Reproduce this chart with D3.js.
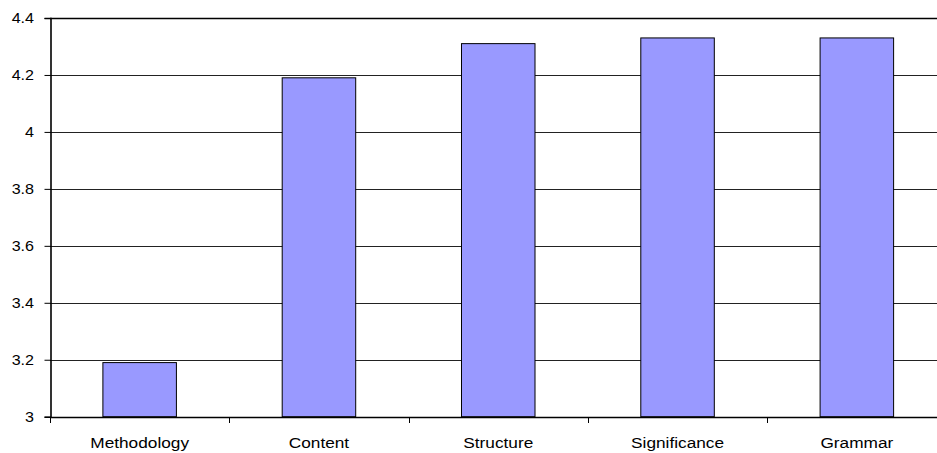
<!DOCTYPE html>
<meta charset="utf-8">
<script src="https://d3js.org/d3.v7.min.js"></script>
<style>
  body { margin: 0; background: #fff; }
</style>
<div id="chart"></div>
<script>
// data
var categories = ["Methodology", "Content", "Structure", "Significance", "Grammar"];
var values = [3.19, 4.19, 4.31, 4.33, 4.33];
var yTicks = [3, 3.2, 3.4, 3.6, 3.8, 4, 4.2, 4.4];

var W = 937, H = 453;
var margin = {left: 50, right: 946.5, top: 18, bottom: 416.7};
var stretch = 1.15; // text in the original is a bit wider than plain Arial

var svg = d3.select("#chart").append("svg")
  .attr("width", W)
  .attr("height", H)
  .style("font-family", "Arial, 'Liberation Sans', sans-serif");

var x = d3.scaleBand()
  .domain(categories)
  .range([margin.left, margin.right])
  .paddingInner(0.59)
  .paddingOuter(0.295);

var xb = d3.scaleBand().domain(categories).range([margin.left, margin.right]);

var y = d3.scaleLinear().domain([3, 4.4]).range([margin.bottom, margin.top]);

// gridlines
svg.selectAll(".grid")
  .data(yTicks.slice(1))
  .enter().append("line")
    .attr("x1", margin.left).attr("x2", margin.right)
    .attr("y1", function(d){ return Math.round(y(d)) + 0.5 })
    .attr("y2", function(d){ return Math.round(y(d)) + 0.5 })
    .attr("stroke", function(d){ return d == 4.4 ? "#000" : "#222" })
    .attr("stroke-width", function(d){ return d == 4.4 ? 1.6 : 1.2 });

// bars
svg.selectAll(".bar")
  .data(values)
  .enter().append("rect")
    .attr("x", function(d, i){ return x(categories[i]) })
    .attr("y", function(d){ return y(d) })
    .attr("width", x.bandwidth())
    .attr("height", function(d){ return margin.bottom - y(d) })
    .attr("fill", "#9999ff")
    .attr("stroke", "#000")
    .attr("stroke-width", 1);

// y axis
var yAxis = d3.axisLeft(y)
  .tickValues(yTicks)
  .tickSize(6)
  .tickFormat(function(d){ return d3.format("")(+d.toFixed(1)) });

svg.append("g")
  .attr("transform", "translate(" + (margin.left + 0.5) + ",0)")
  .call(yAxis)
  .call(function(g){
    g.select(".domain").attr("stroke", "#000").attr("stroke-width", 1.6);
    g.selectAll(".tick line").attr("stroke", "#000");
    g.selectAll("text")
      .attr("x", -16.5 / stretch)
      .attr("transform", "scale(" + stretch + ",1)")
      .attr("font-size", "14px")
      .attr("fill", "#000")
      .attr("font-family", "Arial, 'Liberation Sans', sans-serif");
  });

// x axis
svg.append("line")
  .attr("x1", margin.left).attr("x2", margin.right)
  .attr("y1", Math.round(margin.bottom) + 0.5).attr("y2", Math.round(margin.bottom) + 0.5)
  .attr("stroke", "#000").attr("stroke-width", 1.6);

svg.selectAll(".xtick")
  .data(categories)
  .enter().append("line")
    .attr("x1", function(d){ return Math.round(xb(d)) + 0.5 })
    .attr("x2", function(d){ return Math.round(xb(d)) + 0.5 })
    .attr("y1", Math.round(margin.bottom))
    .attr("y2", Math.round(margin.bottom) + 6)
    .attr("stroke", "#000");

svg.selectAll(".xlabel")
  .data(categories)
  .enter().append("text")
    .attr("transform", function(d){
      return "translate(" + (xb(d) + xb.bandwidth() / 2) + ",448) scale(" + stretch + ",1)";
    })
    .attr("text-anchor", "middle")
    .attr("font-size", "15px")
    .attr("fill", "#000")
    .text(function(d){ return d });
</script>
